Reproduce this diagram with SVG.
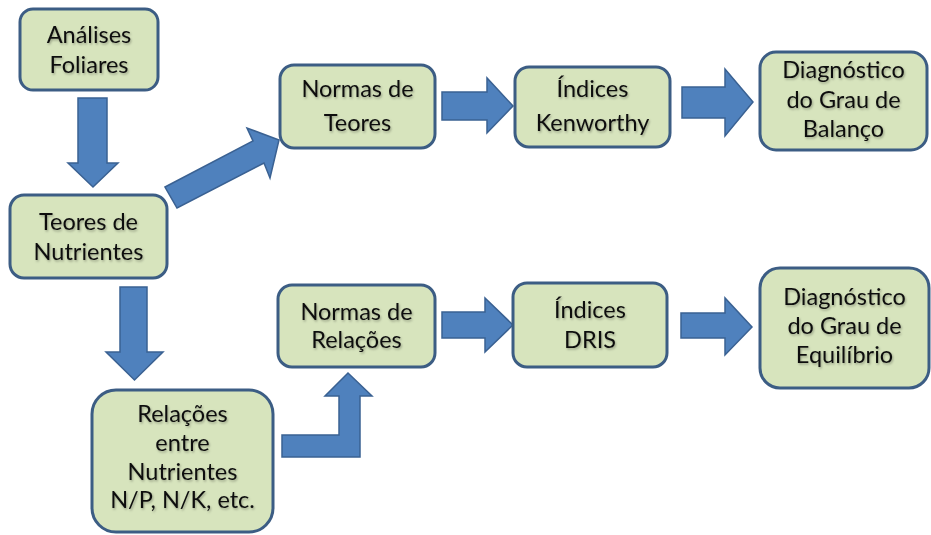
<svg xmlns="http://www.w3.org/2000/svg" width="931" height="535" viewBox="0 0 931 535">
<defs>
<filter id="ts" x="-10%" y="-20%" width="130%" height="150%">
<feDropShadow dx="1" dy="1.5" stdDeviation="1" flood-color="#000" flood-opacity="0.3"/>
</filter>
</defs>
<style>
.box{fill:#d7e4bd;stroke:#3c5d84;stroke-width:3}
.arr{fill:#4f81bd;stroke:#3a6192;stroke-width:1.5;stroke-linejoin:miter}
text{font-family:Lato,"Liberation Sans",sans-serif;font-size:23.5px;fill:#111;text-anchor:middle;filter:url(#ts)}
</style>
<rect width="931" height="535" fill="#fff"/>
<g id="connectors">
<polygon class="arr" points="78,98 107,98 107,163 118,163 93,187 68,163 78,163"/>
<polygon class="arr" points="165,187 253,141 247,128 279,140 270,178 264,163 177,208"/>
<polygon class="arr" points="442,92 487,92 487,78 513,106 487,133 487,120 442,120"/>
<polygon class="arr" points="682,87 725,87 725,69 753,102 725,136 725,118 682,118"/>
<polygon class="arr" points="120,287 147,287 147,352 163,352 134.5,380 106,352 120,352"/>
<polygon class="arr" points="282,435 339,435 339,396 325,396 348,373 372,396 360,396 360,457 282,457"/>
<polygon class="arr" points="442,312 485,312 485,298 513,325 485,352 485,338 442,338"/>
<polygon class="arr" points="681,313 725,313 725,298 752,327 725,355 725,338 681,338"/>
</g>
<g id="n1"><rect class="box" x="20" y="9" width="138" height="81" rx="13"/><text x="89" y="43">Análises</text><text x="89" y="73">Foliares</text></g>
<g id="n2"><rect class="box" x="10" y="195" width="157" height="83" rx="14"/><text x="88.5" y="230">Teores de</text><text x="88.5" y="260">Nutrientes</text></g>
<g id="n3"><rect class="box" x="280" y="65" width="155" height="83" rx="14"/><text x="357.5" y="97">Normas de</text><text x="357.5" y="131">Teores</text></g>
<g id="n4"><rect class="box" x="515" y="67" width="155" height="80" rx="14"/><text x="592.5" y="97">Índices</text><text x="592.5" y="131">Kenworthy</text></g>
<g id="n5"><rect class="box" x="760" y="52" width="167" height="98" rx="16"/><text x="843.5" y="78">Diagnóstico</text><text x="843.5" y="108">do Grau de</text><text x="843.5" y="137">Balanço</text></g>
<g id="n6"><rect class="box" x="278" y="285" width="157" height="82" rx="14"/><text x="356.5" y="320">Normas de</text><text x="356.5" y="348">Relações</text></g>
<g id="n7"><rect class="box" x="513" y="283" width="154" height="84" rx="14"/><text x="590" y="318">Índices</text><text x="590" y="348">DRIS</text></g>
<g id="n8"><rect class="box" x="760" y="268" width="169" height="120" rx="20"/><text x="844.5" y="305">Diagnóstico</text><text x="844.5" y="334">do Grau de</text><text x="844.5" y="363">Equilíbrio</text></g>
<g id="n9"><rect class="box" x="92" y="390" width="181" height="142" rx="24"/><text x="182.5" y="422">Relações</text><text x="182.5" y="451">entre</text><text x="182.5" y="480">Nutrientes</text><text x="182.5" y="508">N/P, N/K, etc.</text></g>
</svg>
